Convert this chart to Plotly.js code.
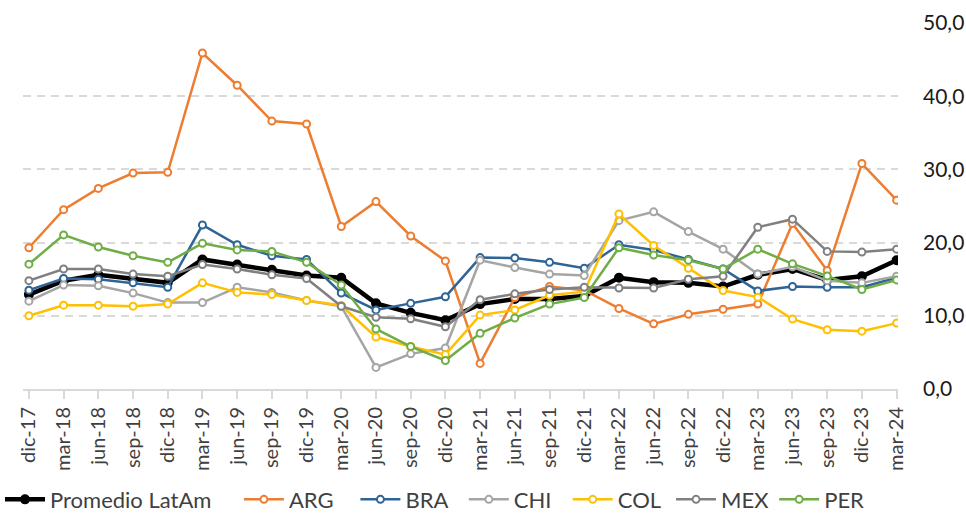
<!DOCTYPE html>
<html>
<head>
<meta charset="utf-8">
<script src="https://cdn.plot.ly/plotly-3.0.1.min.js"></script>
<style>html,body{margin:0;padding:0;background:#fff;}#chart{width:966px;height:515px;}</style>
</head>
<body>
<div id="chart"></div>
<script>
var categories = ["dic-17","mar-18","jun-18","sep-18","dic-18","mar-19","jun-19","sep-19","dic-19","mar-20","jun-20","sep-20","dic-20","mar-21","jun-21","sep-21","dic-21","mar-22","jun-22","sep-22","dic-22","mar-23","jun-23","sep-23","dic-23","mar-24"];
var promedio = [12.9,14.8,15.6,15.1,14.5,17.7,17.0,16.3,15.5,15.2,11.7,10.4,9.4,11.6,12.3,12.3,12.7,15.2,14.6,14.5,14.0,15.6,16.4,14.9,15.4,17.6];
var arg = [19.3,24.5,27.4,29.5,29.6,45.9,41.5,36.6,36.2,22.2,25.6,20.9,17.5,3.5,12.5,14.0,13.5,11.0,8.9,10.2,10.9,11.6,22.6,16.2,30.8,25.8];
var bra = [13.5,15.1,15.0,14.5,13.9,22.4,19.7,18.2,17.7,13.1,10.8,11.7,12.6,17.95,17.9,17.3,16.5,19.7,19.0,17.7,16.4,13.4,14.0,13.9,13.9,15.2];
var chi = [12.0,14.2,14.1,13.1,11.8,11.8,13.9,13.2,12.1,11.3,2.95,4.8,5.6,17.6,16.6,15.7,15.5,23.0,24.2,21.5,19.1,15.7,16.7,14.8,14.5,15.4];
var col = [10.0,11.45,11.45,11.3,11.6,14.5,13.2,12.9,12.1,11.4,7.1,5.8,4.7,10.1,10.8,12.8,13.3,23.9,19.6,16.5,13.45,12.55,9.55,8.1,7.9,9.0];
var mex = [14.8,16.4,16.4,15.7,15.4,17.0,16.4,15.6,15.1,11.3,9.8,9.6,8.5,12.2,13.0,13.6,13.9,13.8,13.8,15.0,15.4,22.1,23.2,18.8,18.7,19.1];
var per = [17.05,21.05,19.4,18.2,17.3,19.9,19.0,18.8,17.3,14.2,8.2,5.8,3.9,7.6,9.7,11.6,12.5,19.3,18.3,17.6,16.4,19.1,17.1,15.45,13.6,14.9];
var yTicks = [0,10,20,30,40,50];
var yTickLabels = ["0,0","10,0","20,0","30,0","40,0","50,0"];

var seriesNames = ["Promedio LatAm","ARG","BRA","CHI","COL","MEX","PER"];
var legendPad = [4,3,2,2,1,0,0];
var seriesData = [promedio, arg, bra, chi, col, mex, per];
var seriesColors = ["#000000","#ED7D31","#2E6496","#A5A5A5","#FFC000","#808080","#70AD47"];

var idx = categories.map(function(_, i){ return i; });
var traces = seriesData.map(function(vals, k){
  var isAvg = k === 0;
  return {
    x: idx, y: vals, name: seriesNames[k] + "\u00a0".repeat(legendPad[k]),
    type: "scatter", mode: "lines+markers",
    line: {color: seriesColors[k], width: isAvg ? 4.5 : 2.5},
    marker: {symbol: "circle", size: isAvg ? 8 : 7,
             color: isAvg ? "#000000" : "#ffffff",
             line: {color: seriesColors[k], width: 2}},
    hoverinfo: "skip"
  };
});

var layout = {
  width: 966, height: 515,
  paper_bgcolor: "#ffffff", plot_bgcolor: "#ffffff",
  margin: {l: 23, r: 68, t: 23, b: 126},
  font: {family: "Lato, 'Open Sans', sans-serif", color: "#262626"},
  showlegend: true,
  legend: {orientation: "h", x: 0.0, xanchor: "left", xref: "container",
           y: 0.03, yref: "container", yanchor: "middle",
           font: {size: 22, color: "#404040"}, traceorder: "normal",
           itemwidth: 40, tracegroupgap: 0},
  xaxis: {
    type: "linear", range: [-0.17, 25.04], tickmode: "array",
    tickvals: idx, ticktext: categories, tickangle: -90,
    tickfont: {size: 20, color: "#404040"},
    showgrid: false, zeroline: false,
    showline: true, linecolor: "#d9d9d9", linewidth: 2,
    ticks: "outside", ticklen: 8, tickcolor: "#d9d9d9", tickwidth: 2,
    fixedrange: true
  },
  yaxis: {
    side: "right", range: [0, 50], tickmode: "array",
    tickvals: yTicks, ticktext: yTickLabels,
    tickfont: {size: 21, color: "#1a1a1a"},
    showgrid: true, gridcolor: "#d9d9d9", gridwidth: 2, griddash: "8px,6px",
    zeroline: false, showline: false, ticks: "", ticklabelstandoff: 24,
    fixedrange: true
  }
};

Plotly.newPlot("chart", traces, layout, {staticPlot: true, displayModeBar: false});
</script>
</body>
</html>
